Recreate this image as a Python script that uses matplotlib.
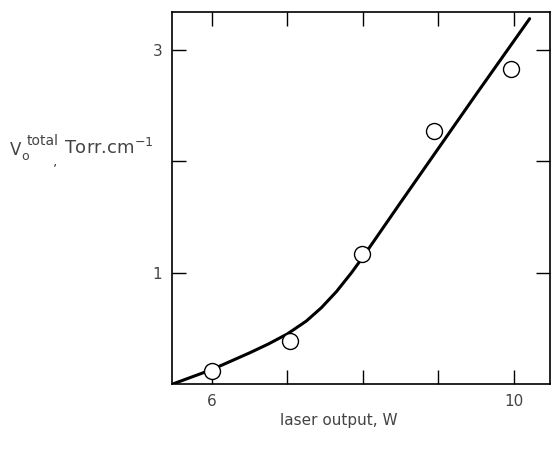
import matplotlib
matplotlib.use('Agg')
import matplotlib.pyplot as plt

# Measured points (laser output, W vs V_o total, Torr/cm)
point_x = [6.0, 7.03, 7.99, 8.94, 9.96]
point_y = [0.12, 0.39, 1.17, 2.27, 2.83]

# Drawn curve
line_x = [5.48, 6.0, 6.5, 6.75, 7.0, 7.25, 7.45, 7.65, 7.85, 8.0, 8.5, 9.0, 9.5, 10.21]
line_y = [0.0, 0.13, 0.28, 0.36, 0.45, 0.565, 0.685, 0.83, 1.0, 1.14, 1.63, 2.115, 2.60, 3.28]

x_ticks = [6, 7, 8, 9, 10]
x_ticklabels = ['6', '', '', '', '10']
y_ticks = [1, 2, 3]
y_ticklabels = ['1', '', '3']

txt = '#444444'

fig = plt.figure(figsize=(5.52, 4.51), dpi=100)
ax = fig.add_axes([172/552, 1 - 384/451, 378/552, 372/451])

ax.plot(line_x, line_y, color='black', linewidth=2.2, solid_capstyle='round', zorder=2)
ax.plot(point_x, point_y, linestyle='none', marker='o', markersize=11.5,
        markerfacecolor='white', markeredgecolor='black', markeredgewidth=1.0, zorder=3)

ax.set_xlim(5.47, 10.48)
ax.set_ylim(0, 3.34)
ax.set_xticks(x_ticks)
ax.set_xticklabels(x_ticklabels)
ax.set_yticks(y_ticks)
ax.set_yticklabels(y_ticklabels)
ax.tick_params(direction='in', length=10, width=1.0, top=True, right=True,
               labelsize=11, labelcolor=txt, pad=7)
for s in ax.spines.values():
    s.set_linewidth(1.2)

# y label, built from pieces like the original lettering
def ftext(px, py, s, size, **kw):
    fig.text(px/552, 1 - py/451, s, fontsize=size, color=txt, va='center', ha='left', **kw)

ftext(10, 150, 'V', 12)
ftext(21, 156, 'o', 9)
ftext(27, 141, 'total', 10)
ftext(53, 161, ',', 10)
ftext(64, 148, r'Torr.cm$^{\mathregular{-1}}$', 13)

fig.text(339/552, 1 - 421/451, 'laser output, W', fontsize=11, color=txt,
         ha='center', va='center')

fig.savefig('out.png', dpi=100)
